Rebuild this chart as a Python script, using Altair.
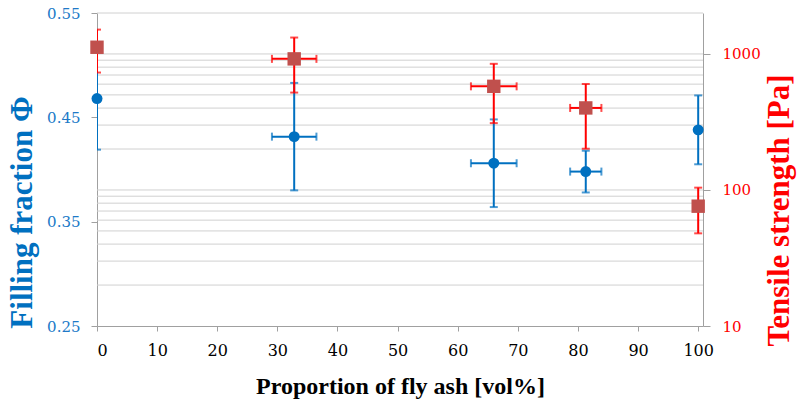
import altair as alt
import pandas as pd

# ---- data ----
proportion = [0, 32.8, 66.0, 81.3, 100]
proportion_err = [0, 3.7, 3.8, 2.6, 0]
filling = [0.468, 0.4315, 0.406, 0.398, 0.438]
filling_err = [0.049, 0.0515, 0.042, 0.020, 0.033]
tensile = [1120, 920, 578, 401, 76]
tensile_err = [390, 400, 268, 200, 28]

x_ticks = [0, 10, 20, 30, 40, 50, 60, 70, 80, 90, 100]
left_ticks = [0.25, 0.35, 0.45, 0.55]
right_ticks = [10, 100, 1000]
grid_values = [20, 30, 40, 50, 60, 70, 80, 90, 100,
               200, 300, 400, 500, 600, 700, 800, 900, 1000, 2000]

BLUE = "#0070C0"
BLUE_LABEL = "#2079C7"
RED = "#FF0000"
RED_FILL = "#C0504D"
AXIS_GRAY = "#A0A0A0"

df = pd.DataFrame({
    "x": proportion, "xe": proportion_err,
    "f": filling, "fe": filling_err,
    "t": tensile, "te": tensile_err,
})
df["xlo"] = df["x"] - df["xe"]
df["xhi"] = df["x"] + df["xe"]
df["flo"] = df["f"] - df["fe"]
df["fhi"] = df["f"] + df["fe"]
df["tlo"] = df["t"] - df["te"]
df["thi"] = df["t"] + df["te"]
dfx = df[df["xe"] > 0]
grid_df = pd.DataFrame({"g": grid_values})

xs = alt.Scale(domain=[0, 100.8], nice=False, zero=False)
ls = alt.Scale(domain=[0.25, 0.55], nice=False, zero=False)
rs = alt.Scale(type="log", domain=[10, 2000], nice=False)

x_axis = alt.Axis(
    orient="bottom", values=x_ticks, grid=False, title="Proportion of fly ash [vol%]",
    titleFont="Liberation Serif", titleFontSize=24, titleFontWeight="bold", titleColor="black",
    titleBaseline="middle", titleY=60,
    labelFont="DejaVu Serif", labelFontSize=16, labelColor="black", labelPadding=11,
    tickSize=5, tickColor=AXIS_GRAY, domainColor=AXIS_GRAY,
)
left_axis = alt.Axis(
    orient="left", values=left_ticks, format=".2f", grid=False, title="Filling fraction Φ",
    titleFont="Liberation Serif", titleFontSize=31, titleFontWeight="bold", titleColor=BLUE,
    titleBaseline="middle", titleX=-75, titleY=199,
    labelFont="DejaVu Serif", labelFontSize=15, labelColor=BLUE_LABEL, labelPadding=11,
    tickSize=6, tickColor=AXIS_GRAY, domainColor=AXIS_GRAY,
)
right_axis = alt.Axis(
    orient="right", values=right_ticks, format="d", grid=False, title="Tensile strength [Pa]",
    titleFont="Liberation Serif", titleFontSize=31, titleFontWeight="bold", titleColor=RED,
    titleBaseline="middle", titleX=76, titleY=197, titleAngle=270,
    labelFont="DejaVu Serif", labelFontSize=15, labelColor=RED, labelPadding=12,
    tickSize=7, tickColor=AXIS_GRAY, domainColor=AXIS_GRAY,
)

X = lambda f: alt.X(f"{f}:Q", scale=xs, axis=x_axis)

# grid lines belonging to the right (log) axis
grid = alt.Chart(grid_df).mark_rule(color="#D0D0D0", strokeWidth=1).encode(
    y=alt.Y("g:Q", scale=rs, axis=None)
)

def group(yfield, lofield, hifield, scale, axis, line_color, point_mark):
    Y = lambda f: alt.Y(f"{f}:Q", scale=scale, axis=axis)
    base = alt.Chart(df)
    vline = base.mark_rule(color=line_color, strokeWidth=2, clip=True).encode(
        x=X("x"), y=Y(lofield), y2=f"{hifield}:Q")
    vcap_lo = base.mark_tick(color=line_color, orient="horizontal", size=8, thickness=2, clip=True).encode(
        x=X("x"), y=Y(lofield))
    vcap_hi = base.mark_tick(color=line_color, orient="horizontal", size=8, thickness=2, clip=True).encode(
        x=X("x"), y=Y(hifield))
    bx = alt.Chart(dfx)
    hline = bx.mark_rule(color=line_color, strokeWidth=2, clip=True).encode(
        x=X("xlo"), x2="xhi:Q", y=Y(yfield))
    hcap_lo = bx.mark_tick(color=line_color, orient="vertical", size=8, thickness=2, clip=True).encode(
        x=X("xlo"), y=Y(yfield))
    hcap_hi = bx.mark_tick(color=line_color, orient="vertical", size=8, thickness=2, clip=True).encode(
        x=X("xhi"), y=Y(yfield))
    pts = base.mark_point(**point_mark).encode(x=X("x"), y=Y(yfield))
    return alt.layer(vline, vcap_lo, vcap_hi, hline, hcap_lo, hcap_hi, pts)

blue = group("f", "flo", "fhi", ls, left_axis, BLUE,
             dict(shape="circle", filled=True, size=120, color=BLUE, opacity=1))
red = group("t", "tlo", "thi", rs, right_axis, RED,
            dict(shape="square", filled=True, size=180, color=RED_FILL, opacity=1))

chart = alt.layer(grid, blue, red).resolve_scale(y="independent").properties(
    width=606, height=313,
    autosize="none",
    padding={"left": 97, "top": 13, "right": 94, "bottom": 83},
    background="white",
).configure_view(strokeWidth=0)

chart.save("out.html", embed_options={"renderer": "svg", "actions": False})
